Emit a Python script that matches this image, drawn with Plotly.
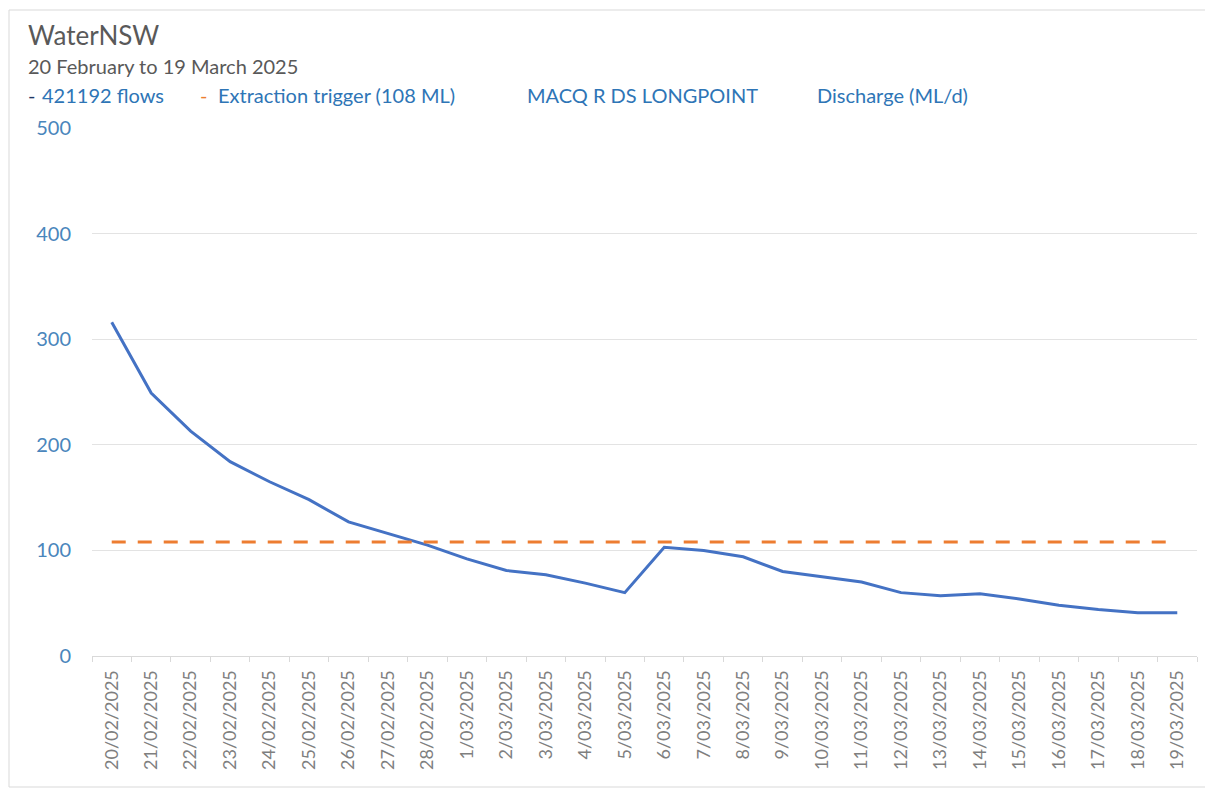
import plotly.graph_objects as go

dates = ["20/02/2025", "21/02/2025", "22/02/2025", "23/02/2025", "24/02/2025", "25/02/2025",
         "26/02/2025", "27/02/2025", "28/02/2025", "1/03/2025", "2/03/2025", "3/03/2025",
         "4/03/2025", "5/03/2025", "6/03/2025", "7/03/2025", "8/03/2025", "9/03/2025",
         "10/03/2025", "11/03/2025", "12/03/2025", "13/03/2025", "14/03/2025", "15/03/2025",
         "16/03/2025", "17/03/2025", "18/03/2025", "19/03/2025"]
flows = [316, 249, 213, 184, 165, 148, 127, 116, 105, 92, 81, 77, 69, 60,
         103, 100, 94, 80, 75, 70, 60, 57, 59, 54, 48, 44, 41, 41]
trigger_level = 108
trigger = [trigger_level] * len(dates)
y_ticks = [0, 100, 200, 300, 400, 500]

FONT = "Lato"
BLUE_TXT = "#2E75B6"
GREY_TXT = "#595959"

# page has an 8px body margin; plot area in screen px: left 92, right 1197, top 128, bottom 656
PL, PR, PT, PB = 92, 1197, 128, 656
def px_x(x):
    return (x - PL) / (PR - PL)
def px_y(y):
    return (PB - y) / (PB - PT)

fig = go.Figure()
fig.add_trace(go.Scatter(x=dates, y=flows, mode="lines", name="421192 flows",
                         line=dict(color="#4472C4", width=3)))
fig.add_trace(go.Scatter(x=dates, y=trigger, mode="lines", name="Extraction trigger (108 ML)",
                         line=dict(color="#ED7D31", width=3, dash="14px,12px")))

fig.update_layout(
    width=1205, height=783,
    margin=dict(l=PL - 8, r=1213 - PR, t=PT - 8, b=791 - PB),
    paper_bgcolor="white", plot_bgcolor="white",
    showlegend=False,
    font=dict(family=FONT, color=GREY_TXT),
    xaxis=dict(type="category", tickangle=-90, tickfont=dict(size=18, color="#7F7F7F", family=FONT),
               showgrid=False, showline=True, linecolor="#D9D9D9", linewidth=1,
               ticks="outside", ticklen=5, tickcolor="#D9D9D9", tickson="boundaries",
               ticklabelstandoff=6, range=[-0.5, len(dates) - 0.5]),
    yaxis=dict(range=[0, 500], tickvals=y_ticks, showgrid=True, gridcolor="#E3E3E3", gridwidth=1,
               zeroline=False, showline=False, tickfont=dict(size=20, color="#4A86BC", family=FONT),
               ticklabelstandoff=20),
)

fig.add_annotation(text="WaterNSW", xref="paper", yref="paper", x=px_x(26), y=px_y(35),
                   xanchor="left", yanchor="middle", showarrow=False,
                   font=dict(size=26, color=GREY_TXT, family=FONT))
fig.add_annotation(text="20 February to 19 March 2025", xref="paper", yref="paper",
                   x=px_x(26), y=px_y(66), xanchor="left", yanchor="middle",
                   showarrow=False, font=dict(size=20, color=GREY_TXT, family=FONT))

legend_items = [
    (26, "-", "#1F3864"),
    (40, "421192 flows", BLUE_TXT),
    (198, "-", "#ED7D31"),
    (216, "Extraction trigger (108 ML)", BLUE_TXT),
    (525, "MACQ R DS LONGPOINT", BLUE_TXT),
    (815, "Discharge (ML/d)", BLUE_TXT),
]
for px, txt, col in legend_items:
    fig.add_annotation(text=txt, xref="paper", yref="paper", x=px_x(px), y=px_y(95),
                       xanchor="left", yanchor="middle", showarrow=False,
                       font=dict(size=20, color=col, family=FONT))

fig.add_shape(type="rect", xref="paper", yref="paper",
              x0=px_x(9), x1=px_x(1210), y0=px_y(787), y1=px_y(10),
              line=dict(color="#D9D9D9", width=1), fillcolor="rgba(0,0,0,0)", layer="below")

fig.write_html("out.html")
